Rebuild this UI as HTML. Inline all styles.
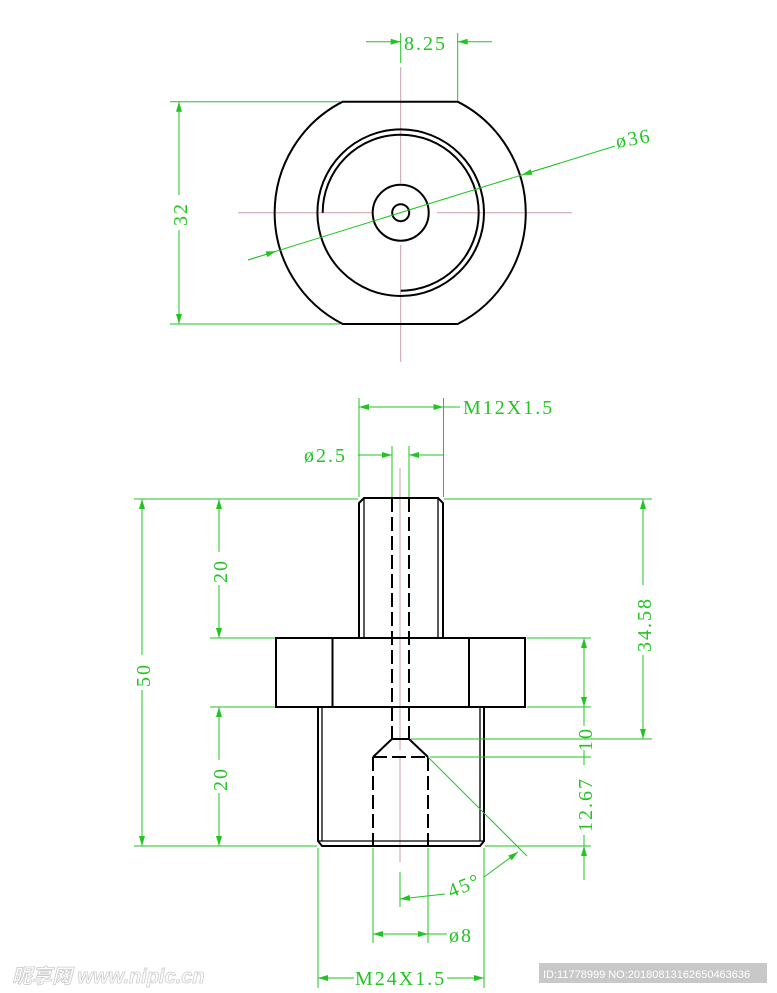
<!DOCTYPE html>
<html><head><meta charset="utf-8"><style>
html,body{margin:0;padding:0;background:#fff}
svg{display:block}
text{font-family:"Liberation Serif","Noto Serif CJK SC",serif}
</style></head><body>
<svg width="777" height="993" viewBox="0 0 777 993" xmlns="http://www.w3.org/2000/svg">
<defs>
<marker id="a" viewBox="0 0 10 6" refX="10" refY="3" markerWidth="14" markerHeight="6" markerUnits="userSpaceOnUse" orient="auto-start-reverse"><path d="M0,0 L10,3 L0,6 Z" fill="#22c422"/></marker>
</defs>
<g stroke="#c9a0a6" stroke-width="1" fill="none">
<line x1="238" y1="212.7" x2="373" y2="212.7"/><line x1="437" y1="212.7" x2="572" y2="212.7"/>
<line x1="400.7" y1="67" x2="400.7" y2="183"/><line x1="400.7" y1="245" x2="400.7" y2="362"/>
<line x1="400" y1="468" x2="400" y2="750"/><line x1="400" y1="758" x2="400" y2="862"/>
</g>
<g stroke="#000" stroke-width="2" fill="none">
<path d="M342.7,101.7 L457.7,101.7 A124.8,124.8 0 0 1 457.7,324 L342.7,324 A124.8,124.8 0 0 1 342.7,101.7 Z"/>
<circle cx="400.7" cy="212.7" r="83.3"/>
<path d="M322.7,212.7 A78,78 0 1 1 400.7,290.7"/>
<circle cx="400.7" cy="212.7" r="28"/>
<circle cx="400.7" cy="212.7" r="8.5"/>
</g>
<g stroke="#22c422" stroke-width="1" fill="none">
<line x1="400.7" y1="33" x2="400.7" y2="63"/><line x1="457.7" y1="33" x2="457.7" y2="101"/>
<line x1="366" y1="41.7" x2="400.7" y2="41.7" marker-end="url(#a)"/>
<line x1="492" y1="41.7" x2="457.7" y2="41.7" marker-end="url(#a)"/>
<line x1="170" y1="101.7" x2="340" y2="101.7"/><line x1="170" y1="324" x2="340" y2="324"/>
<line x1="179" y1="101.7" x2="179" y2="195" marker-start="url(#a)"/><line x1="179" y1="230" x2="179" y2="324" marker-end="url(#a)"/>
<line x1="248" y1="260" x2="615" y2="146"/>
<line x1="248" y1="260" x2="276" y2="251.3" marker-end="url(#a)"/>
<line x1="560" y1="163.1" x2="522" y2="174.9" marker-end="url(#a)"/>
</g>
<g fill="#22c422" font-size="20" letter-spacing="2">
<text x="404" y="50">8.25</text>
<text x="617" y="148" transform="rotate(-10 617 148)">ø36</text>
<text x="0" y="0" transform="translate(187 226) rotate(-90)">32</text>
</g>
<g stroke="#000" stroke-width="2" fill="none">
<path d="M359,638 L359,503 L364,498 L438,498 L443,503 L443,638"/>
<line x1="364" y1="498" x2="364" y2="638" stroke-width="1.3"/><line x1="438" y1="498" x2="438" y2="638" stroke-width="1.3"/>
<rect x="276" y="638" width="249" height="69"/>
<line x1="332.5" y1="638" x2="332.5" y2="707"/><line x1="469" y1="638" x2="469" y2="707"/>
<path d="M318,707 L318,841 L322,846 L480,846 L484,841 L484,707"/>
<line x1="322" y1="707" x2="322" y2="841" stroke-width="1.3"/><line x1="480" y1="707" x2="480" y2="841" stroke-width="1.3"/>
<line x1="318" y1="841" x2="484" y2="841" stroke-width="1.3"/>
<g stroke-dasharray="14,5">
<line x1="392" y1="498" x2="392" y2="739"/><line x1="409" y1="498" x2="409" y2="739"/>
<line x1="373" y1="757" x2="373" y2="846"/><line x1="428" y1="757" x2="428" y2="846"/>
<line x1="373" y1="757" x2="428" y2="757"/>
</g>
<path d="M392,739 L409,739 L428,757 M392,739 L373,757"/>
</g>
<g stroke="#22c422" stroke-width="1" fill="none">
<line x1="359" y1="398" x2="359" y2="497"/><line x1="443.5" y1="398" x2="443.5" y2="497"/>
<line x1="359" y1="407" x2="443.5" y2="407" marker-start="url(#a)" marker-end="url(#a)"/>
<line x1="443.5" y1="407" x2="460" y2="407"/>
<line x1="392" y1="446" x2="392" y2="497"/><line x1="409" y1="446" x2="409" y2="497"/>
<line x1="358" y1="455" x2="392" y2="455" marker-end="url(#a)"/>
<line x1="443" y1="455" x2="409" y2="455" marker-end="url(#a)"/>
<line x1="134" y1="499" x2="358" y2="499"/><line x1="444" y1="499" x2="652" y2="499"/>
<line x1="210" y1="638" x2="275" y2="638"/><line x1="210" y1="707" x2="275" y2="707"/>
<line x1="527" y1="638" x2="591" y2="638"/><line x1="527" y1="707" x2="591" y2="707"/>
<line x1="134" y1="846" x2="317" y2="846"/><line x1="485" y1="846" x2="591" y2="846"/>
<line x1="411" y1="739" x2="652" y2="739"/><line x1="430" y1="757" x2="591" y2="757"/>
<line x1="142" y1="499" x2="142" y2="655" marker-start="url(#a)"/><line x1="142" y1="690" x2="142" y2="846" marker-end="url(#a)"/>
<line x1="219" y1="499" x2="219" y2="552" marker-start="url(#a)"/><line x1="219" y1="585" x2="219" y2="638" marker-end="url(#a)"/>
<line x1="219" y1="707" x2="219" y2="760" marker-start="url(#a)"/><line x1="219" y1="793" x2="219" y2="846" marker-end="url(#a)"/>
<line x1="643" y1="499" x2="643" y2="585" marker-start="url(#a)"/><line x1="643" y1="655" x2="643" y2="739" marker-end="url(#a)"/>
<line x1="584" y1="638" x2="584" y2="726" marker-start="url(#a)"/>
<line x1="584" y1="680" x2="584" y2="707" marker-end="url(#a)"/>
<line x1="584" y1="750" x2="584" y2="765"/>
<line x1="584" y1="835" x2="584" y2="846"/>
<line x1="584" y1="880" x2="584" y2="846" marker-end="url(#a)"/>
<line x1="428" y1="757" x2="527" y2="856"/>
<line x1="318" y1="848" x2="318" y2="988"/><line x1="484" y1="848" x2="484" y2="988"/>
<line x1="373" y1="848" x2="373" y2="943"/><line x1="428" y1="848" x2="428" y2="943"/>
<line x1="373" y1="934" x2="428" y2="934" marker-start="url(#a)" marker-end="url(#a)"/>
<line x1="428" y1="934" x2="447" y2="934"/>
<line x1="318" y1="978" x2="354" y2="978" marker-start="url(#a)"/>
<line x1="447" y1="978" x2="484" y2="978" marker-end="url(#a)"/>
<line x1="400" y1="872" x2="400" y2="907"/>
<line x1="445" y1="894" x2="400" y2="899" marker-end="url(#a)"/>
<line x1="484" y1="877" x2="518" y2="852" marker-end="url(#a)"/>
</g>
<g fill="#22c422" font-size="20" letter-spacing="2">
<text x="463" y="414">M12X1.5</text>
<text x="304" y="462">ø2.5</text>
<text x="449" y="942">ø8</text>
<text x="355" y="985">M24X1.5</text>
<text x="0" y="0" transform="translate(451 898) rotate(-22)">45°</text>
<text x="0" y="0" transform="translate(150 687) rotate(-90)">50</text>
<text x="0" y="0" transform="translate(227 583) rotate(-90)">20</text>
<text x="0" y="0" transform="translate(227 791) rotate(-90)">20</text>
<text x="0" y="0" transform="translate(651 652) rotate(-90)">34.58</text>
<text x="0" y="0" transform="translate(592 751) rotate(-90)">10</text>
<text x="0" y="0" transform="translate(592 832) rotate(-90)">12.67</text>
</g>
<text x="12" y="983" font-size="20" fill="none" stroke="#ccc" stroke-width="0.8" style="font-family:'Liberation Sans','Noto Sans CJK SC',sans-serif;font-weight:bold;font-style:italic">昵享网 www.nipic.cn</text>
<rect x="539" y="963" width="228" height="20" fill="#c8c8c8"/>
<text x="543" y="978" font-size="11" fill="#fff" style="font-family:'Liberation Sans',sans-serif">ID:11778999 NO:20180813162650463636</text>
</svg>
</body></html>
